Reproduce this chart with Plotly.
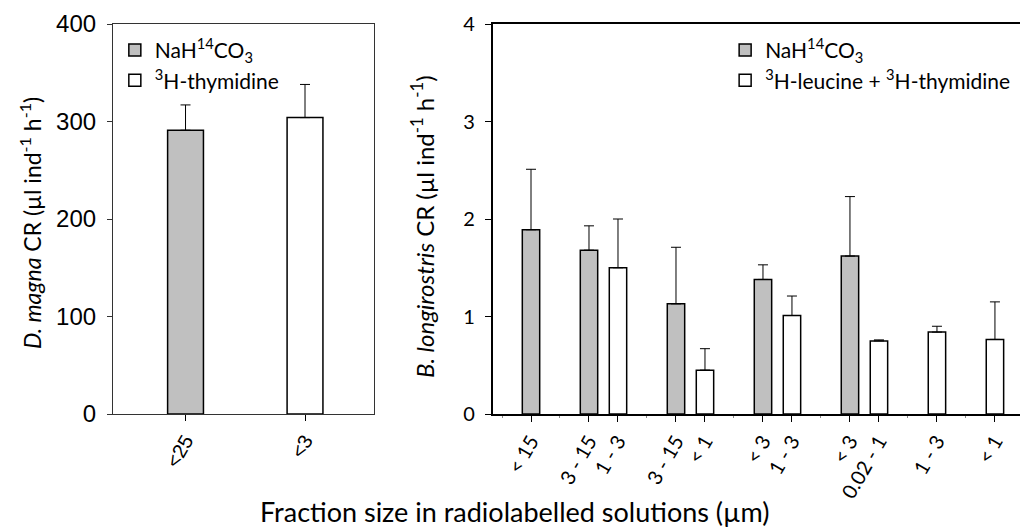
import plotly.graph_objects as go

# ---------------- data ----------------
# Left panel (D. magna)
left_labels = ["&lt;25", "&lt;3"]
left_series = ["gray", "white"]
left_values = [291, 304]
left_err = [26, 34]

# Right panel (B. longirostris); "" entries are empty spacer slots
right_slots = ["&lt; 15", "", "3 - 15", "1 - 3", "", "3 - 15", "&lt; 1", "",
               "&lt; 3", "1 - 3", "", "&lt; 3", "0.02 - 1", "", "1 - 3", "", "&lt; 1"]
right_series = ["gray", "", "gray", "white", "", "gray", "white", "",
                "gray", "white", "", "gray", "white", "", "white", "", "white"]
gray_values = [1.89, 1.68, 1.13, 1.38, 1.62]
gray_err = [0.62, 0.25, 0.58, 0.15, 0.61]
white_values = [1.50, 0.45, 1.01, 0.75, 0.84, 0.765]
white_err = [0.50, 0.22, 0.20, 0.01, 0.06, 0.385]

name_gray = "NaH<sup>14</sup>CO<sub>3</sub>"
name_white_left = "<sup>3</sup>H-thymidine"
name_white_right = "<sup>3</sup>H-leucine + <sup>3</sup>H-thymidine"

# ---------------- styles ----------------
GRAY = "#c0c0c0"
CAL = "Lato, 'Open Sans', sans-serif"
ARI = "'Liberation Sans', Arial, sans-serif"

fig = go.Figure()

def err(arr):
    return dict(type="data", array=arr, arrayminus=[0] * len(arr), symmetric=False,
                color="black", thickness=1, width=5)

# left panel bars
lx = list(range(len(left_labels)))
fig.add_trace(go.Bar(x=[lx[0]], y=[left_values[0]], width=0.30,
                     marker=dict(color=GRAY, line=dict(color="black", width=1.5)),
                     error_y=err([left_err[0]]), name=name_gray,
                     xaxis="x", yaxis="y", legend="legend"))
fig.add_trace(go.Bar(x=[lx[1]], y=[left_values[1]], width=0.30,
                     marker=dict(color="white", line=dict(color="black", width=1.5)),
                     error_y=err([left_err[1]]), name=name_white_left,
                     xaxis="x", yaxis="y", legend="legend"))

# right panel bars
gx = [i for i, s in enumerate(right_series) if s == "gray"]
wx = [i for i, s in enumerate(right_series) if s == "white"]
fig.add_trace(go.Bar(x=gx, y=gray_values, width=0.6,
                     marker=dict(color=GRAY, line=dict(color="black", width=1.5)),
                     error_y=err(gray_err), name=name_gray,
                     xaxis="x2", yaxis="y2", legend="legend2"))
fig.add_trace(go.Bar(x=wx, y=white_values, width=0.6,
                     marker=dict(color="white", line=dict(color="black", width=1.5)),
                     error_y=err(white_err), name=name_white_right,
                     xaxis="x2", yaxis="y2", legend="legend2"))

tick_pos = [i for i, s in enumerate(right_slots) if s]
tick_txt = [s for s in right_slots if s]

# page body has an 8px default margin: figure is placed at (8, 8)
fig.update_layout(
    width=1020, height=519,
    margin=dict(l=105, r=0, t=16, b=113),
    paper_bgcolor="white", plot_bgcolor="white",
    barmode="overlay",
    xaxis=dict(domain=[0, 0.2852], range=[-0.607, 1.577],
               tickmode="array", tickvals=lx, ticktext=left_labels, tickangle=-60,
               ticks="outside", ticklen=6, tickcolor="black",
               showline=True, linecolor="#333", linewidth=1.2, mirror=True,
               showgrid=False, zeroline=False, automargin=False,
               tickfont=dict(family=ARI, size=20, color="black")),
    yaxis=dict(domain=[0, 1], range=[0, 400], tickvals=[0, 100, 200, 300, 400],
               ticks="outside", ticklen=5, tickcolor="#333",
               showline=True, linecolor="#333", linewidth=1.2, mirror=True,
               showgrid=False, zeroline=False, ticklabelstandoff=6, automargin=False,
               tickfont=dict(family=ARI, size=24, color="black")),
    xaxis2=dict(domain=[0.415, 1.0], range=[-1.32, 17.14], anchor="y2",
                tickmode="array", tickvals=tick_pos, ticktext=tick_txt, tickangle=-60,
                ticks="outside", ticklen=6, tickcolor="black",
                minor=dict(ticks="outside", ticklen=2, dtick=1, tick0=0, tickcolor="#888", showgrid=False),
                showline=True, linecolor="black", linewidth=1.5, mirror=True,
                showgrid=False, zeroline=False, automargin=False,
                tickfont=dict(family=CAL, size=20, color="black")),
    yaxis2=dict(domain=[0, 1], range=[0, 4], anchor="x2", tickvals=[0, 1, 2, 3, 4],
                ticks="outside", ticklen=6, tickcolor="black",
                showline=True, linecolor="black", linewidth=1.5,
                showgrid=False, zeroline=False, ticklabelstandoff=6, automargin=False,
                tickfont=dict(family=CAL, size=20, color="black")),
    legend=dict(x=0.002, y=0.985, xanchor="left", yanchor="top",
                bgcolor="rgba(0,0,0,0)", font=dict(family=CAL, size=21, color="black"),
                tracegroupgap=0, itemclick=False),
    legend2=dict(x=0.669, y=0.985, xanchor="left", yanchor="top",
                 bgcolor="rgba(0,0,0,0)", font=dict(family=CAL, size=21, color="black"),
                 tracegroupgap=0, itemclick=False),
    annotations=[
        dict(text="<i>D. magna</i> CR (\u00b5l ind<sup>-1</sup> h<sup>-1</sup>)",
             x=-0.0896, y=0.49, xref="paper", yref="paper", textangle=-90,
             showarrow=False, xanchor="center", yanchor="middle",
             font=dict(family=CAL, size=23, color="black")),
        dict(text="<i>B. longirostris</i> CR (\u00b5l ind<sup>-1</sup> h<sup>-1</sup>)",
             x=0.338, y=0.48, xref="paper", yref="paper", textangle=-90,
             showarrow=False, xanchor="center", yanchor="middle",
             font=dict(family=CAL, size=24, color="black")),
        dict(text="Fraction size in radiolabelled solutions (\u00b5m)",
             x=0.439, y=-0.249, xref="paper", yref="paper",
             showarrow=False, xanchor="center", yanchor="middle",
             font=dict(family=CAL, size=27, color="black")),
    ],
)

fig.write_html("out.html")
